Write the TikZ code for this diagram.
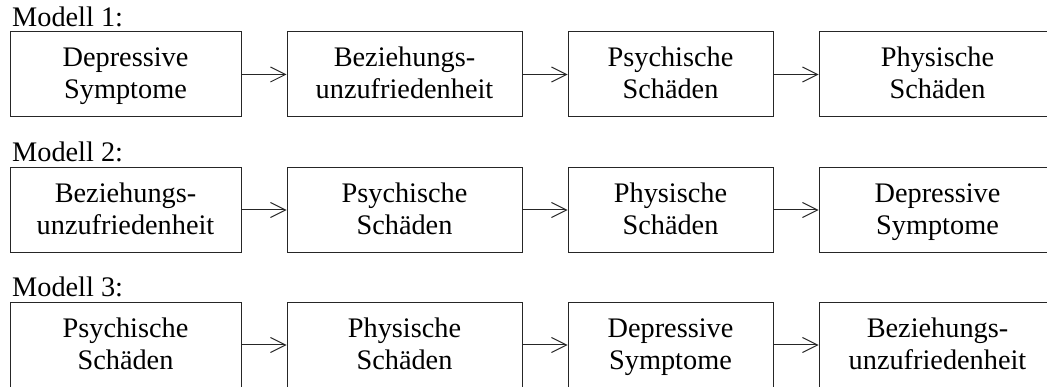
\documentclass[tikz,border=0pt]{standalone}
\usepackage{fontspec}
\setmainfont{Liberation Serif}
\usetikzlibrary{arrows.meta}
% equal line boxes, so every two-line label sits at the same height
\newcommand\lnstrut{\rule[-7pt]{0pt}{31pt}}
\newcommand\twolines[2]{\lnstrut#1\\\lnstrut#2}
\begin{document}
\begin{tikzpicture}[x=1pt,y=-1pt,
  stage/.style={draw=black!85, line width=1pt, inner sep=0pt, align=center,
    minimum height=85pt, font=\fontsize{28.3}{32}\selectfont},
  wa/.style={stage, minimum width=231pt},
  wb/.style={stage, minimum width=235pt},
  wc/.style={stage, minimum width=205pt},
  wd/.style={stage, minimum width=237pt},
  title/.style={anchor=base west, inner sep=0pt, font=\fontsize{28.3}{32}\selectfont},
  link/.style={draw=black!85, line width=1pt, -{Straight Barb[length=15pt,width=15pt]}}]
\useasboundingbox (0,0) rectangle (1047,387);
\clip (0,0) rectangle (1047,387);

% Modell 1
\node[title] (t1) at (12,27) {Modell 1:};
\node[wa] (a1) at (125.5,74.5) {\twolines{Depressive}{Symptome}};
\node[wb] (b1) at (404.5,74.5) {\twolines{Beziehungs-}{unzufriedenheit}};
\node[wc] (c1) at (670.5,74.5) {\twolines{Psychische}{Schäden}};
\node[wd] (d1) at (937.5,74.5) {\twolines{Physische}{Schäden}};
\draw[link] (a1) -- (b1);
\draw[link] (b1) -- (c1);
\draw[link] (c1) -- (d1);

% Modell 2
\node[title] (t2) at (12,162) {Modell 2:};
\node[wa] (a2) at (125.5,210) {\twolines{Beziehungs-}{unzufriedenheit}};
\node[wb] (b2) at (404.5,210) {\twolines{Psychische}{Schäden}};
\node[wc] (c2) at (670.5,210) {\twolines{Physische}{Schäden}};
\node[wd] (d2) at (937.5,210) {\twolines{Depressive}{Symptome}};
\draw[link] (a2) -- (b2);
\draw[link] (b2) -- (c2);
\draw[link] (c2) -- (d2);

% Modell 3
\node[title] (t3) at (12,297) {Modell 3:};
\node[wa] (a3) at (125.5,345) {\twolines{Psychische}{Schäden}};
\node[wb] (b3) at (404.5,345) {\twolines{Physische}{Schäden}};
\node[wc] (c3) at (670.5,345) {\twolines{Depressive}{Symptome}};
\node[wd] (d3) at (937.5,345) {\twolines{Beziehungs-}{unzufriedenheit}};
\draw[link] (a3) -- (b3);
\draw[link] (b3) -- (c3);
\draw[link] (c3) -- (d3);
\end{tikzpicture}
\end{document}
